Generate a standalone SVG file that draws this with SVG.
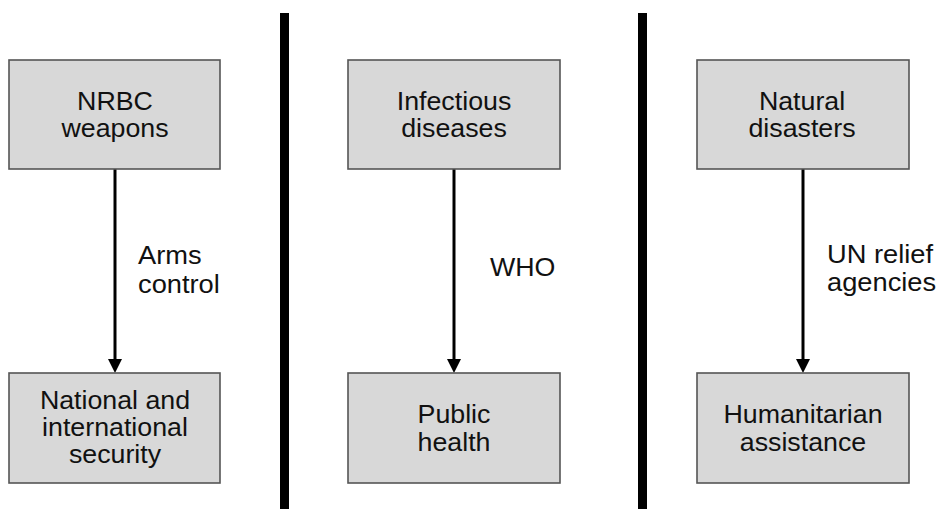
<svg xmlns="http://www.w3.org/2000/svg" width="937" height="509" viewBox="0 0 937 509">
<style>
.box{fill:#d8d8d8;stroke:#555;stroke-width:1.6}
.t{font-family:"Liberation Sans",Arial,sans-serif;font-size:25.5px;fill:#111}
.c{text-anchor:middle}
.edge{stroke:#000;stroke-width:3;fill:none}
.div{fill:#000}
</style>
<rect class="div" x="280" y="13" width="9" height="496"/>
<rect class="div" x="638" y="13" width="9" height="496"/>
<g id="connectors">
<line class="edge" x1="115" y1="169" x2="115" y2="359"/>
<path d="M108,359 L122,359 L115,373 Z" fill="#000"/>
<line class="edge" x1="454" y1="169" x2="454" y2="359"/>
<path d="M447,359 L461,359 L454,373 Z" fill="#000"/>
<line class="edge" x1="803" y1="169" x2="803" y2="359"/>
<path d="M796,359 L810,359 L803,373 Z" fill="#000"/>
<g transform="translate(138 0) scale(1.07 1)"><text class="t" x="0" y="264">Arms</text><text class="t" x="0" y="293">control</text></g>
<g transform="translate(490 0) scale(1.05 1)"><text class="t" x="0" y="276">WHO</text></g>
<g transform="translate(827 0) scale(1.07 1)"><text class="t" x="0" y="263">UN relief</text><text class="t" x="0" y="291">agencies</text></g>
</g>
<g id="n1"><rect class="box" x="9" y="60" width="211" height="109"/>
<g transform="translate(115 0) scale(1.05 1)"><text class="t c" x="0" y="110">NRBC</text><text class="t c" x="0" y="137">weapons</text></g></g>
<g id="n2"><rect class="box" x="348" y="60" width="212" height="109"/>
<g transform="translate(454 0) scale(1.05 1)"><text class="t c" x="0" y="110">Infectious</text><text class="t c" x="0" y="137">diseases</text></g></g>
<g id="n3"><rect class="box" x="697" y="60" width="212" height="109"/>
<g transform="translate(802 0) scale(1.05 1)"><text class="t c" x="0" y="110">Natural</text><text class="t c" x="0" y="137">disasters</text></g></g>
<g id="n4"><rect class="box" x="9" y="373" width="211" height="110"/>
<g transform="translate(115 0) scale(1.05 1)"><text class="t c" x="0" y="409">National and</text><text class="t c" x="0" y="436">international</text><text class="t c" x="0" y="463">security</text></g></g>
<g id="n5"><rect class="box" x="348" y="373" width="212" height="110"/>
<g transform="translate(454 0) scale(1.05 1)"><text class="t c" x="0" y="423">Public</text><text class="t c" x="0" y="451">health</text></g></g>
<g id="n6"><rect class="box" x="697" y="373" width="212" height="110"/>
<g transform="translate(803 0) scale(1.05 1)"><text class="t c" x="0" y="423">Humanitarian</text><text class="t c" x="0" y="451">assistance</text></g></g>
</svg>
